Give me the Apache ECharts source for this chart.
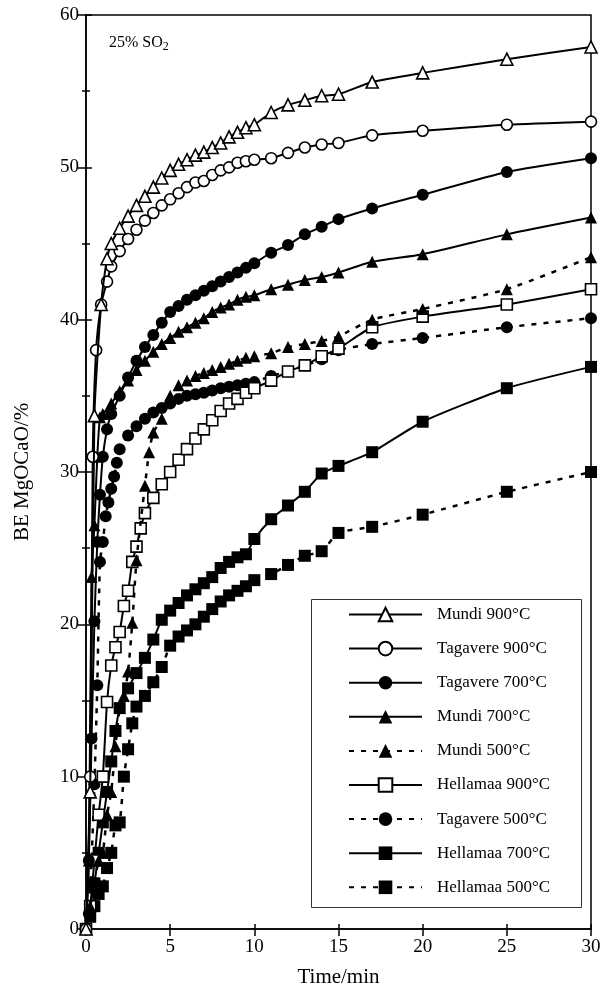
<!DOCTYPE html>
<html>
<head>
<meta charset="utf-8">
<title>BE MgOCaO vs time, 25% SO2</title>
<script src="https://cdn.jsdelivr.net/npm/echarts@6/dist/echarts.min.js"></script>
<style>
  html, body { margin: 0; padding: 0; background: #fff; }
  #chart { width: 609px; height: 993px; }
</style>
</head>
<body>
<div id="chart"></div>
<script>
// Binding efficiency (BE) of MgO+CaO versus time, 25% SO2 atmosphere.
const xTicks = [0, 5, 10, 15, 20, 25, 30];
const yTicks = [0, 10, 20, 30, 40, 50, 60];

const seriesNames = [
  'Mundi 900°C', 'Tagavere 900°C', 'Tagavere 700°C', 'Mundi 700°C', 'Mundi 500°C',
  'Hellamaa 900°C', 'Tagavere 500°C', 'Hellamaa 700°C', 'Hellamaa 500°C'
];

// Mundi 900°C
const mundi900T = [0, 0.25, 0.5, 0.9, 1.25, 1.5, 2, 2.5, 3, 3.5, 4, 4.5, 5, 5.5, 6, 6.5, 7, 7.5, 8, 8.5, 9, 9.5, 10, 11, 12, 13, 14, 15, 17, 20, 25, 30];
const mundi900V = [0, 9.0, 33.7, 41.0, 44.0, 45.0, 46.0, 46.8, 47.5, 48.1, 48.7, 49.3, 49.8, 50.2, 50.5, 50.8, 51.0, 51.3, 51.6, 52.0, 52.3, 52.6, 52.8, 53.6, 54.1, 54.4, 54.7, 54.8, 55.6, 56.2, 57.1, 57.9];

// Tagavere 900°C
const tag900T = [0, 0.25, 0.4, 0.6, 0.9, 1.25, 1.5, 2, 2.5, 3, 3.5, 4, 4.5, 5, 5.5, 6, 6.5, 7, 7.5, 8, 8.5, 9, 9.5, 10, 11, 12, 13, 14, 15, 17, 20, 25, 30];
const tag900V = [0, 10.0, 31.0, 38.0, 41.0, 42.5, 43.5, 44.5, 45.3, 45.9, 46.5, 47.0, 47.5, 47.9, 48.3, 48.7, 49.0, 49.1, 49.5, 49.8, 50.0, 50.3, 50.4, 50.5, 50.6, 50.95, 51.3, 51.5, 51.6, 52.1, 52.4, 52.8, 53.0];

// Tagavere 700°C
const tag700T = [0, 0.17, 0.33, 0.5, 0.67, 0.83, 1, 1.25, 1.5, 2, 2.5, 3, 3.5, 4, 4.5, 5, 5.5, 6, 6.5, 7, 7.5, 8, 8.5, 9, 9.5, 10, 11, 12, 13, 14, 15, 17, 20, 25, 30];
const tag700V = [0, 4.5, 12.5, 20.2, 25.4, 28.5, 31.0, 32.8, 33.8, 35.0, 36.2, 37.3, 38.2, 39.0, 39.8, 40.5, 40.9, 41.3, 41.6, 41.9, 42.2, 42.5, 42.8, 43.1, 43.4, 43.7, 44.4, 44.9, 45.6, 46.1, 46.6, 47.3, 48.2, 49.7, 50.6];

// Mundi 700°C
const mundi700T = [0, 0.17, 0.33, 0.5, 0.67, 0.83, 1, 1.5, 2, 2.5, 3, 3.5, 4, 4.5, 5, 5.5, 6, 6.5, 7, 7.5, 8, 8.5, 9, 9.5, 10, 11, 12, 13, 14, 15, 17, 20, 25, 30];
const mundi700V = [0, 4.5, 23.1, 26.5, 31.0, 33.6, 33.8, 34.5, 35.3, 36.0, 36.7, 37.3, 37.9, 38.4, 38.8, 39.2, 39.5, 39.8, 40.1, 40.5, 40.8, 41.0, 41.3, 41.5, 41.6, 42.0, 42.3, 42.6, 42.8, 43.1, 43.8, 44.3, 45.6, 46.7];

// Mundi 500°C
const mundi500T = [0, 0.25, 0.5, 0.75, 1, 1.25, 1.5, 1.75, 2, 2.25, 2.5, 2.75, 3, 3.5, 3.75, 4, 4.5, 5, 5.5, 6, 6.5, 7, 7.5, 8, 8.5, 9, 9.5, 10, 11, 12, 13, 14, 15, 17, 20, 25, 30];
const mundi500V = [0, 1.5, 3.0, 4.5, 5.0, 7.5, 9.0, 12.0, 14.5, 15.3, 16.9, 20.1, 24.2, 29.1, 31.3, 32.6, 33.5, 35.0, 35.7, 36.0, 36.3, 36.5, 36.7, 36.9, 37.1, 37.3, 37.5, 37.6, 37.8, 38.2, 38.4, 38.6, 38.9, 40.0, 40.7, 42.0, 44.1];

// Hellamaa 900°C
const hel900T = [0, 0.25, 0.5, 0.75, 1, 1.25, 1.5, 1.75, 2, 2.25, 2.5, 2.75, 3, 3.25, 3.5, 4, 4.5, 5, 5.5, 6, 6.5, 7, 7.5, 8, 8.5, 9, 9.5, 10, 11, 12, 13, 14, 15, 17, 20, 25, 30];
const hel900V = [0, 1.5, 4.5, 7.5, 10.0, 14.9, 17.3, 18.5, 19.5, 21.2, 22.2, 24.1, 25.1, 26.3, 27.3, 28.3, 29.2, 30.0, 30.8, 31.5, 32.2, 32.8, 33.4, 34.0, 34.5, 34.8, 35.2, 35.5, 36.0, 36.6, 37.0, 37.6, 38.1, 39.5, 40.2, 41.0, 42.0];

// Tagavere 500°C
const tag500T = [0, 0.17, 0.33, 0.5, 0.67, 0.83, 1, 1.17, 1.33, 1.5, 1.67, 1.83, 2, 2.5, 3, 3.5, 4, 4.5, 5, 5.5, 6, 6.5, 7, 7.5, 8, 8.5, 9, 9.5, 10, 11, 12, 13, 14, 15, 17, 20, 25, 30];
const tag500V = [0, 1.0, 4.5, 9.5, 16.0, 24.1, 25.4, 27.1, 28.0, 28.9, 29.7, 30.6, 31.5, 32.4, 33.0, 33.5, 33.9, 34.2, 34.5, 34.8, 35.0, 35.1, 35.2, 35.35, 35.5, 35.6, 35.7, 35.8, 35.9, 36.3, 36.6, 37.0, 37.4, 38.0, 38.4, 38.8, 39.5, 40.1];

// Hellamaa 700°C
const hel700T = [0, 0.25, 0.5, 0.75, 1, 1.25, 1.5, 1.75, 2, 2.5, 3, 3.5, 4, 4.5, 5, 5.5, 6, 6.5, 7, 7.5, 8, 8.5, 9, 9.5, 10, 11, 12, 13, 14, 15, 17, 20, 25, 30];
const hel700V = [0, 1.5, 3.0, 5.0, 7.0, 9.0, 11.0, 13.0, 14.5, 15.8, 16.8, 17.8, 19.0, 20.3, 20.9, 21.4, 21.9, 22.3, 22.7, 23.1, 23.7, 24.1, 24.4, 24.6, 25.6, 26.9, 27.8, 28.7, 29.9, 30.4, 31.3, 33.3, 35.5, 36.9];

// Hellamaa 500°C
const hel500T = [0, 0.25, 0.5, 0.75, 1, 1.25, 1.5, 1.75, 2, 2.25, 2.5, 2.75, 3, 3.5, 4, 4.5, 5, 5.5, 6, 6.5, 7, 7.5, 8, 8.5, 9, 9.5, 10, 11, 12, 13, 14, 15, 17, 20, 25, 30];
const hel500V = [0, 0.8, 1.5, 2.3, 2.8, 4.0, 5.0, 6.8, 7.0, 10.0, 11.8, 13.5, 14.6, 15.3, 16.2, 17.2, 18.6, 19.2, 19.6, 20.0, 20.5, 21.0, 21.5, 21.9, 22.2, 22.5, 22.9, 23.3, 23.9, 24.5, 24.8, 26.0, 26.4, 27.2, 28.7, 30.0];

const seriesTimes = [mundi900T, tag900T, tag700T, mundi700T, mundi500T, hel900T, tag500T, hel700T, hel500T];
const seriesValues = [mundi900V, tag900V, tag700V, mundi700V, mundi500V, hel900V, tag500V, hel700V, hel500V];

// marker shape, hollow or filled, line style per series
const styles = [
  { symbol: 'triangle', hollow: true,  dashed: false, size: 12 },
  { symbol: 'circle',   hollow: true,  dashed: false, size: 11 },
  { symbol: 'circle',   hollow: false, dashed: false, size: 12 },
  { symbol: 'triangle', hollow: false, dashed: false, size: 12 },
  { symbol: 'triangle', hollow: false, dashed: true,  size: 12 },
  { symbol: 'rect',     hollow: true,  dashed: false, size: 11 },
  { symbol: 'circle',   hollow: false, dashed: true,  size: 12 },
  { symbol: 'rect',     hollow: false, dashed: false, size: 12 },
  { symbol: 'rect',     hollow: false, dashed: true,  size: 12 }
];

const FONT = '"Liberation Serif", "Times New Roman", serif';

const series = seriesNames.map((name, i) => {
  const st = styles[i];
  return {
    name: name,
    type: 'line',
    xAxisIndex: 0,
    yAxisIndex: 0,
    data: seriesTimes[i].map((t, k) => [t, seriesValues[i][k]]),
    symbol: st.symbol,
    symbolSize: st.size,
    showAllSymbol: true,
    smooth: 0.2,
    lineStyle: {
      color: '#000',
      width: st.dashed ? 2.5 : 2,
      type: st.dashed ? [5, 7] : 'solid'
    },
    itemStyle: {
      color: st.hollow ? '#fff' : '#000',
      borderColor: '#000',
      borderWidth: st.hollow ? 1.6 : 0
    },
    emphasis: { disabled: true },
    z: 2 + (seriesNames.length - i) * 0.01
  };
});

const xCommon = { type: 'value', min: 0, max: 30, interval: 5, gridIndex: 0 };
const yCommon = { type: 'value', min: 0, max: 60, interval: 10, gridIndex: 0 };

const option = {
  animation: false,
  backgroundColor: '#fff',
  title: {
    text: '{a|25% SO}{b|2}',
    left: 104,
    top: 28,
    textStyle: {
      rich: {
        a: { fontFamily: FONT, fontSize: 16, color: '#000', fontWeight: 'normal' },
        b: { fontFamily: FONT, fontSize: 12, color: '#000', fontWeight: 'normal', verticalAlign: 'bottom', padding: [8, 0, 0, 0] }
      }
    }
  },
  grid: {
    left: 86, right: 18, top: 15, bottom: 63,
    show: true, borderColor: '#000', borderWidth: 1.5, backgroundColor: 'transparent'
  },
  legend: {
    orient: 'vertical',
    left: 343,
    top: 601,
    itemWidth: 73,
    itemHeight: 17,
    itemGap: 17.1,
    data: seriesNames,
    textStyle: { fontFamily: FONT, fontSize: 17, color: '#000', lineHeight: 17, padding: [0, 0, 0, 10] },
    selectedMode: false
  },
  graphic: [{
    type: 'rect',
    shape: { x: 311.5, y: 599.5, width: 270, height: 308 },
    style: { fill: 'none', stroke: '#333', lineWidth: 1 },
    z: 1
  }],
  xAxis: [
    Object.assign({}, xCommon, {
      position: 'bottom',
      name: 'Time/min',
      nameLocation: 'middle',
      nameGap: 38,
      nameTextStyle: { fontFamily: FONT, fontSize: 21, color: '#000' },
      axisLine: { show: true, lineStyle: { color: '#000', width: 1.5 } },
      axisTick: { show: true, inside: false, length: 7, lineStyle: { color: '#000', width: 1.5 } },
      axisLabel: {
        fontFamily: FONT, fontSize: 19, color: '#000', margin: 9,
        formatter: v => (xTicks.indexOf(v) >= 0 ? String(v) : '')
      },
      splitLine: { show: false }
    }),
    Object.assign({}, xCommon, {
      position: 'bottom',
      axisLine: { show: false },
      axisTick: { show: true, inside: true, length: 5, lineStyle: { color: '#000', width: 1.5 } },
      axisLabel: { show: false },
      splitLine: { show: false }
    })
  ],
  yAxis: [
    Object.assign({}, yCommon, {
      position: 'left',
      name: 'BE MgOCaO/%',
      nameLocation: 'middle',
      nameGap: 53,
      nameTextStyle: { fontFamily: FONT, fontSize: 21, color: '#000' },
      axisLine: { show: true, lineStyle: { color: '#000', width: 1.5 } },
      axisTick: { show: true, inside: false, length: 8, lineStyle: { color: '#000', width: 1.5 } },
      minorTick: { show: true, splitNumber: 2, length: 4, lineStyle: { color: '#000', width: 1.5 } },
      axisLabel: {
        fontFamily: FONT, fontSize: 19, color: '#000', margin: 7,
        formatter: v => (yTicks.indexOf(v) >= 0 ? String(v) : '')
      },
      splitLine: { show: false },
      minorSplitLine: { show: false }
    }),
    Object.assign({}, yCommon, {
      position: 'left',
      axisLine: { show: false },
      axisTick: { show: true, inside: true, length: 6, lineStyle: { color: '#000', width: 1.5 } },
      minorTick: { show: true, splitNumber: 2, length: 4, lineStyle: { color: '#000', width: 1.5 } },
      axisLabel: { show: false },
      splitLine: { show: false },
      minorSplitLine: { show: false }
    })
  ],
  series: series
};

const chart = echarts.init(document.getElementById('chart'), null, { renderer: 'canvas' });
chart.setOption(option);
</script>
</body>
</html>
